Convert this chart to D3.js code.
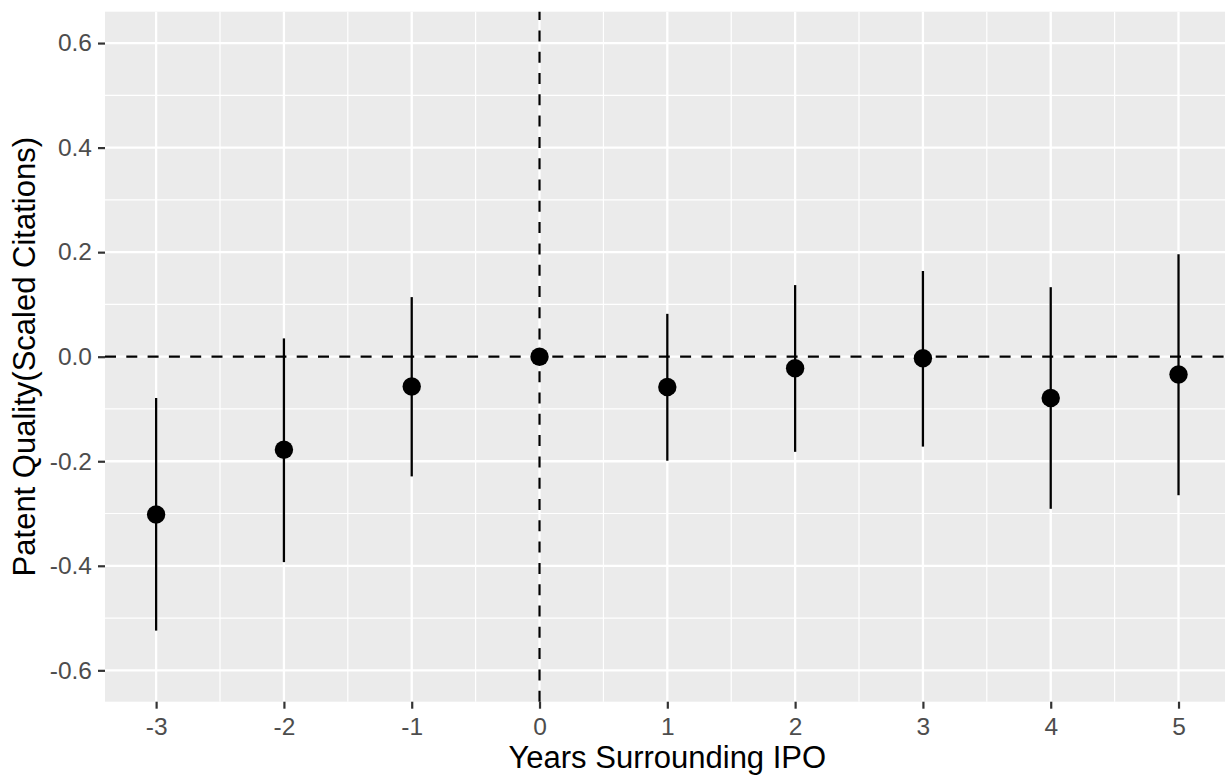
<!DOCTYPE html>
<html>
<head>
<meta charset="utf-8">
<script src="https://cdn.jsdelivr.net/npm/d3@7"></script>
<style>
    html, body { margin: 0; padding: 0; background: #fff; }
    svg { display: block; font-family: "Liberation Sans", Arial, sans-serif; }
</style>
</head>
<body>
<div id="chart-container"></div>
<script>

// event-study estimates
var years = [-3, -2, -1, 0, 1, 2, 3, 4, 5];
var estimates = [-0.302, -0.178, -0.057, 0, -0.058, -0.022, -0.003, -0.079, -0.034];
var lower = [-0.524, -0.393, -0.229, 0, -0.199, -0.182, -0.172, -0.291, -0.265];
var upper = [-0.079, 0.035, 0.114, 0, 0.082, 0.137, 0.164, 0.133, 0.196];

var xTicks = [-3, -2, -1, 0, 1, 2, 3, 4, 5];
var xTickLabels = ["-3", "-2", "-1", "0", "1", "2", "3", "4", "5"];
var yTicks = [-0.6, -0.4, -0.2, 0, 0.2, 0.4, 0.6];
var yTickLabels = ["-0.6", "-0.4", "-0.2", "0.0", "0.2", "0.4", "0.6"];

var xTitle = "Years Surrounding IPO";
var yTitle = "Patent Quality(Scaled Citations)";

var dataset = years.map(function (y, i) {
    return { year: y, est: estimates[i], lo: lower[i], hi: upper[i] };
});

var width = 1225, height = 778;
var panel = { left: 105, top: 11.7, bottom: 701.7 };

var svg = d3.select("#chart-container")
    .append("svg")
    .attr("width", width)
    .attr("height", height);

var xScale = d3.scaleLinear()
    .domain([-3.4, 5.4])
    .range([panel.left, panel.left + 8.8 * 127.8]);
var yScale = d3.scaleLinear()
    .domain([-0.66, 0.66])
    .range([panel.bottom, panel.top]);

var x0 = xScale.range()[0], x1 = xScale.range()[1];
var y0 = panel.top, y1 = panel.bottom;

// panel background
svg.append("rect")
    .attr("x", x0)
    .attr("y", y0)
    .attr("width", x1 - x0)
    .attr("height", y1 - y0)
    .attr("fill", "#EBEBEB");

// minor grid
var xMinor = xTicks.map(function (d) { return d + 0.5; }).concat([-3.5]);
var yMinor = [-0.5, -0.3, -0.1, 0.1, 0.3, 0.5];

svg.append("g").selectAll("line")
    .data(xMinor)
    .enter()
    .append("line")
    .attr("x1", function (d) { return xScale(d); })
    .attr("x2", function (d) { return xScale(d); })
    .attr("y1", y0)
    .attr("y2", y1)
    .attr("stroke", "#fff")
    .attr("stroke-width", 1.2);

svg.append("g").selectAll("line")
    .data(yMinor)
    .enter()
    .append("line")
    .attr("x1", x0)
    .attr("x2", x1)
    .attr("y1", function (d) { return yScale(d); })
    .attr("y2", function (d) { return yScale(d); })
    .attr("stroke", "#fff")
    .attr("stroke-width", 1.2);

// major grid
svg.append("g").selectAll("line")
    .data(xTicks)
    .enter()
    .append("line")
    .attr("x1", function (d) { return xScale(d); })
    .attr("x2", function (d) { return xScale(d); })
    .attr("y1", y0)
    .attr("y2", y1)
    .attr("stroke", "#fff")
    .attr("stroke-width", 2.3);

svg.append("g").selectAll("line")
    .data(yTicks)
    .enter()
    .append("line")
    .attr("x1", x0)
    .attr("x2", x1)
    .attr("y1", function (d) { return yScale(d); })
    .attr("y2", function (d) { return yScale(d); })
    .attr("stroke", "#fff")
    .attr("stroke-width", 2.3);

// reference lines
svg.append("line")
    .attr("x1", x0)
    .attr("x2", x1)
    .attr("y1", yScale(0))
    .attr("y2", yScale(0))
    .attr("stroke", "#000")
    .attr("stroke-width", 2.2)
    .attr("stroke-dasharray", "11,10.3");

svg.append("line")
    .attr("x1", xScale(0))
    .attr("x2", xScale(0))
    .attr("y1", y1)
    .attr("y2", y0)
    .attr("stroke", "#000")
    .attr("stroke-width", 2.2)
    .attr("stroke-dasharray", "11,10.3");

// error bars
svg.append("g").selectAll("line")
    .data(dataset.filter(function (d) { return d.hi !== d.lo; }))
    .enter()
    .append("line")
    .attr("x1", function (d) { return xScale(d.year); })
    .attr("x2", function (d) { return xScale(d.year); })
    .attr("y1", function (d) { return yScale(d.lo); })
    .attr("y2", function (d) { return yScale(d.hi); })
    .attr("stroke", "#000")
    .attr("stroke-width", 2.3);

// points
svg.append("g").selectAll("circle")
    .data(dataset)
    .enter()
    .append("circle")
    .attr("cx", function (d) { return xScale(d.year); })
    .attr("cy", function (d) { return yScale(d.est); })
    .attr("r", 9.2)
    .attr("fill", "#000");

// axes
var xAxis = d3.axisBottom(xScale)
    .tickValues(xTicks)
    .tickFormat(function (d, i) { return xTickLabels[i]; })
    .tickSize(7)
    .tickPadding(9);
var yAxis = d3.axisLeft(yScale)
    .tickValues(yTicks)
    .tickFormat(function (d, i) { return yTickLabels[i]; })
    .tickSize(7)
    .tickPadding(6);

var gx = svg.append("g")
    .attr("transform", "translate(0," + y1 + ")")
    .call(xAxis);
var gy = svg.append("g")
    .attr("transform", "translate(" + x0 + ",0)")
    .call(yAxis);

[gx, gy].forEach(function (g) {
    g.select(".domain").remove();
    g.selectAll(".tick line")
        .attr("stroke", "#333333")
        .attr("stroke-width", 2.2);
    g.selectAll(".tick text")
        .attr("fill", "#4D4D4D")
        .style("font-size", "24.5px")
        .style("font-family", "'Liberation Sans', Arial, sans-serif");
});

// axis titles
svg.append("text")
    .attr("x", (x0 + x1) / 2)
    .attr("y", 768)
    .attr("text-anchor", "middle")
    .style("font-size", "31px")
    .attr("fill", "#000")
    .text(xTitle);

svg.append("text")
    .attr("transform", "translate(35," + ((y0 + y1) / 2) + ") rotate(-90)")
    .attr("text-anchor", "middle")
    .style("font-size", "31px")
    .attr("fill", "#000")
    .text(yTitle);

</script>
</body>
</html>
